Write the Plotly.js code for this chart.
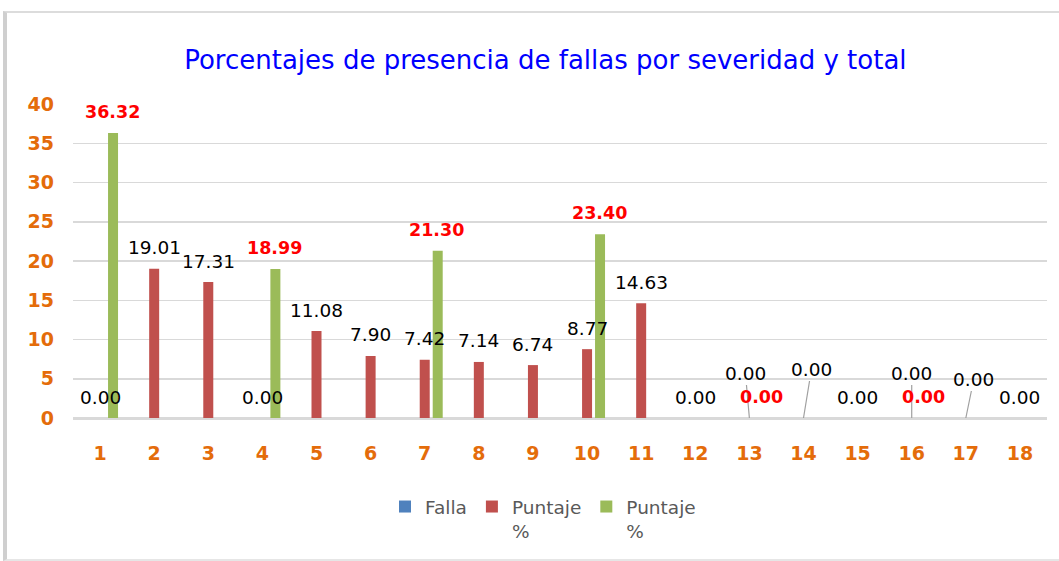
<!DOCTYPE html>
<html>
<head>
<meta charset="utf-8">
<script src="https://cdn.plot.ly/plotly-3.0.1.min.js"></script>
<style>
  html, body { margin: 0; padding: 0; background: #ffffff; }
  #chart { width: 1059px; height: 561px; }
  #frame { position: absolute; left: 3px; top: 11px; width: 1060px; height: 546px;
           border-top: 2px solid #dcdcdc; border-left: 4px solid #cfcfcf; border-bottom: 2px solid #e6e6e6;
           pointer-events: none; }
</style>
</head>
<body>
<div id="chart"></div>
<div id="frame"></div>
<script>
// ---- data ----
const categories = ['1','2','3','4','5','6','7','8','9','10','11','12','13','14','15','16','17','18'];
const falla = [null,null,null,null,null,null,null,null,null,null,null,null,null,null,null,null,null,null];
const puntajeRojo = [0.00,19.01,17.31,0.00,11.08,7.90,7.42,7.14,6.74,8.77,14.63,0.00,0.00,0.00,0.00,0.00,0.00,0.00];
const puntajeVerde = [36.32,null,null,18.99,null,null,21.30,null,null,23.40,null,null,0.00,null,null,0.00,null,null];
const seriesNames = ['Falla', 'Puntaje<br>%', 'Puntaje<br>%'];

// label placement tweaks (pixels) for crowded zero labels of the red series
const redLabelMoves = { '13': [-4, -45], '14': [8, -49], '16': [0, -45], '17': [8, -39] };

const FONT = 'DejaVu Sans, Liberation Sans, sans-serif';
const ORANGE = '#E46C0A';

const traces = [
  { type: 'bar', name: seriesNames[0], x: categories, y: falla, marker: { color: '#4F81BD' } },
  { type: 'bar', name: seriesNames[1], x: categories, y: puntajeRojo, marker: { color: '#C0504D' } },
  { type: 'bar', name: seriesNames[2], x: categories, y: puntajeVerde, marker: { color: '#9BBB59' } }
];

const annotations = [];
categories.forEach((c, i) => {
  const v = puntajeRojo[i];
  if (v !== null) {
    const mv = redLabelMoves[c];
    if (mv) {
      annotations.push({ x: i, y: v, xref: 'x', yref: 'y', text: v.toFixed(2),
        showarrow: true, arrowhead: 0, arrowwidth: 1.2, arrowcolor: '#a0a0a0',
        ax: mv[0], ay: mv[1], standoff: 0, startstandoff: 0,
        font: { family: FONT, size: 18.5, color: '#000000' } });
    } else {
      annotations.push({ x: i, y: v, xref: 'x', yref: 'y', text: v.toFixed(2),
        showarrow: false, yanchor: 'middle', yshift: 21,
        font: { family: FONT, size: 18.5, color: '#000000' } });
    }
  }
  const g = puntajeVerde[i];
  if (g !== null) {
    annotations.push({ x: i, y: g, xref: 'x', yref: 'y', text: '<b>' + g.toFixed(2) + '</b>',
      showarrow: false, yanchor: 'middle', yshift: 21, xshift: 12,
      font: { family: FONT, size: 17.5, color: '#FF0000' } });
  }
});

const layout = {
  width: 1059, height: 561,
  margin: { l: 73, r: 12, t: 104, b: 143 },
  paper_bgcolor: '#ffffff', plot_bgcolor: '#ffffff',
  barmode: 'group', bargap: 0.28, bargroupgap: 0.23,
  title: { text: 'Porcentajes de presencia de fallas por severidad y total',
    font: { family: FONT, size: 26, color: '#0000FF' },
    x: 0.515, xref: 'container', xanchor: 'center', y: 0.893, yref: 'container', yanchor: 'middle' },
  xaxis: { type: 'category', range: [-0.5, 17.5], automargin: false, showgrid: false, showline: true,
    linecolor: '#d9d9d9', linewidth: 1.5, ticks: '', ticklabelstandoff: 18,
    tickfont: { family: FONT, size: 19, color: ORANGE, weight: 'bold' } },
  yaxis: { range: [0, 40], dtick: 5, automargin: false, showgrid: true, gridcolor: '#d9d9d9', gridwidth: 1.5,
    zeroline: true, zerolinecolor: '#d9d9d9', zerolinewidth: 1.5, showline: false, ticks: '',
    ticklabelstandoff: 18,
    tickfont: { family: FONT, size: 19, color: ORANGE, weight: 'bold' } },
  showlegend: true,
  legend: { orientation: 'h', xref: 'container', x: 385 / 1059, xanchor: 'left',
    yref: 'container', y: 1 - 488 / 561, yanchor: 'top', valign: 'top',
    font: { family: FONT, size: 18.5, color: '#595959' }, traceorder: 'normal' },
  annotations: annotations
};

Plotly.newPlot('chart', traces, layout, { displayModeBar: false, staticPlot: true });
</script>
</body>
</html>
